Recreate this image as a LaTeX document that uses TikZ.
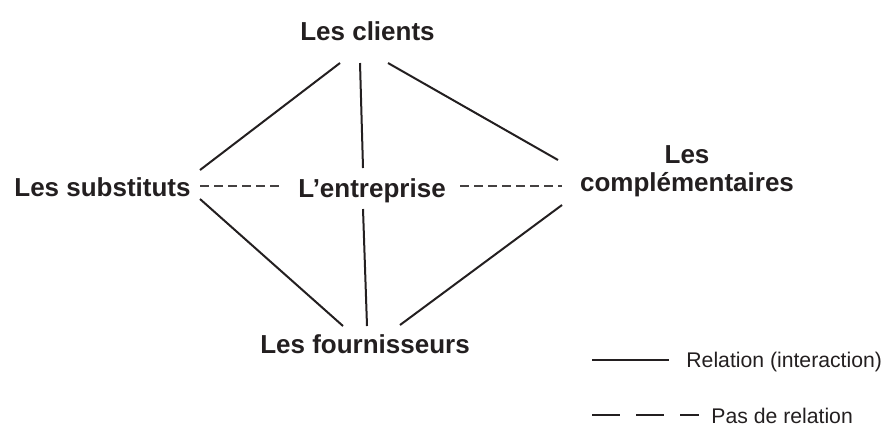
\documentclass[tikz,border=0pt]{standalone}
\usepackage{fontspec}
\setmainfont{Liberation Sans}
\definecolor{ink}{HTML}{231F20}
\begin{document}
\begin{tikzpicture}[x=0.5pt,y=-0.5pt,
  lab/.style={font=\bfseries\fontsize{13}{14}\selectfont, text=ink, inner sep=0pt, anchor=base},
  leg/.style={font=\fontsize{10.6}{12}\selectfont, text=ink, inner sep=0pt, anchor=base west},
  rel/.style={draw=ink, line width=1pt},
  norel/.style={draw=ink!85, line width=0.8pt, dash pattern=on 4.5pt off 2.5pt},
  legnorel/.style={draw=ink, line width=1pt, dash pattern=on 14pt off 8pt}]
\useasboundingbox (0,0) rectangle (886,425);
\node[lab] (cl) at (367.5,40) {Les clients};
\node[lab] (sub) at (102.5,196) {Les substituts};
\node[lab] (ent) at (372,197) {L’entreprise};
\node[lab, align=center] (comp) at (687,191) {Les\\complémentaires};
\node[lab] (four) at (365,353) {Les fournisseurs};
% relations
\draw[rel] ([shift={(-27.5,23)}]cl.base) -- ([shift={(97.5,-26)}]sub.base);
\draw[rel] ([shift={(-7.5,23)}]cl.base) -- ([shift={(-9,-29)}]ent.base);
\draw[rel] ([shift={(20.5,23)}]cl.base) -- ([shift={(-129,-31)}]comp.base);
\draw[rel] ([shift={(97.5,3)}]sub.base) -- ([shift={(-22,-27)}]four.base);
\draw[rel] ([shift={(-9,12)}]ent.base) -- ([shift={(2,-27)}]four.base);
\draw[rel] ([shift={(-125,14)}]comp.base) -- ([shift={(35,-28)}]four.base);
% no relation
\draw[norel] ([shift={(97.5,-10)}]sub.base) -- ([shift={(-89,-11)}]ent.base);
\draw[norel] ([shift={(88,-11)}]ent.base) -- ([shift={(-125,-5)}]comp.base);
% legend
\node[leg] (lrel) at (686,367) {Relation (interaction)};
\node[leg] (lpas) at (711,423) {Pas de relation};
\coordinate (lrelA) at ([shift={(-94,-7)}]lrel.base west);
\coordinate (lpasA) at ([shift={(-119,-8)}]lpas.base west);
\draw[rel] (lrelA) -- ([shift={(-17,-7)}]lrel.base west);
\draw[legnorel] (lpasA) -- ([shift={(-12,-8)}]lpas.base west);
\end{tikzpicture}
\end{document}
